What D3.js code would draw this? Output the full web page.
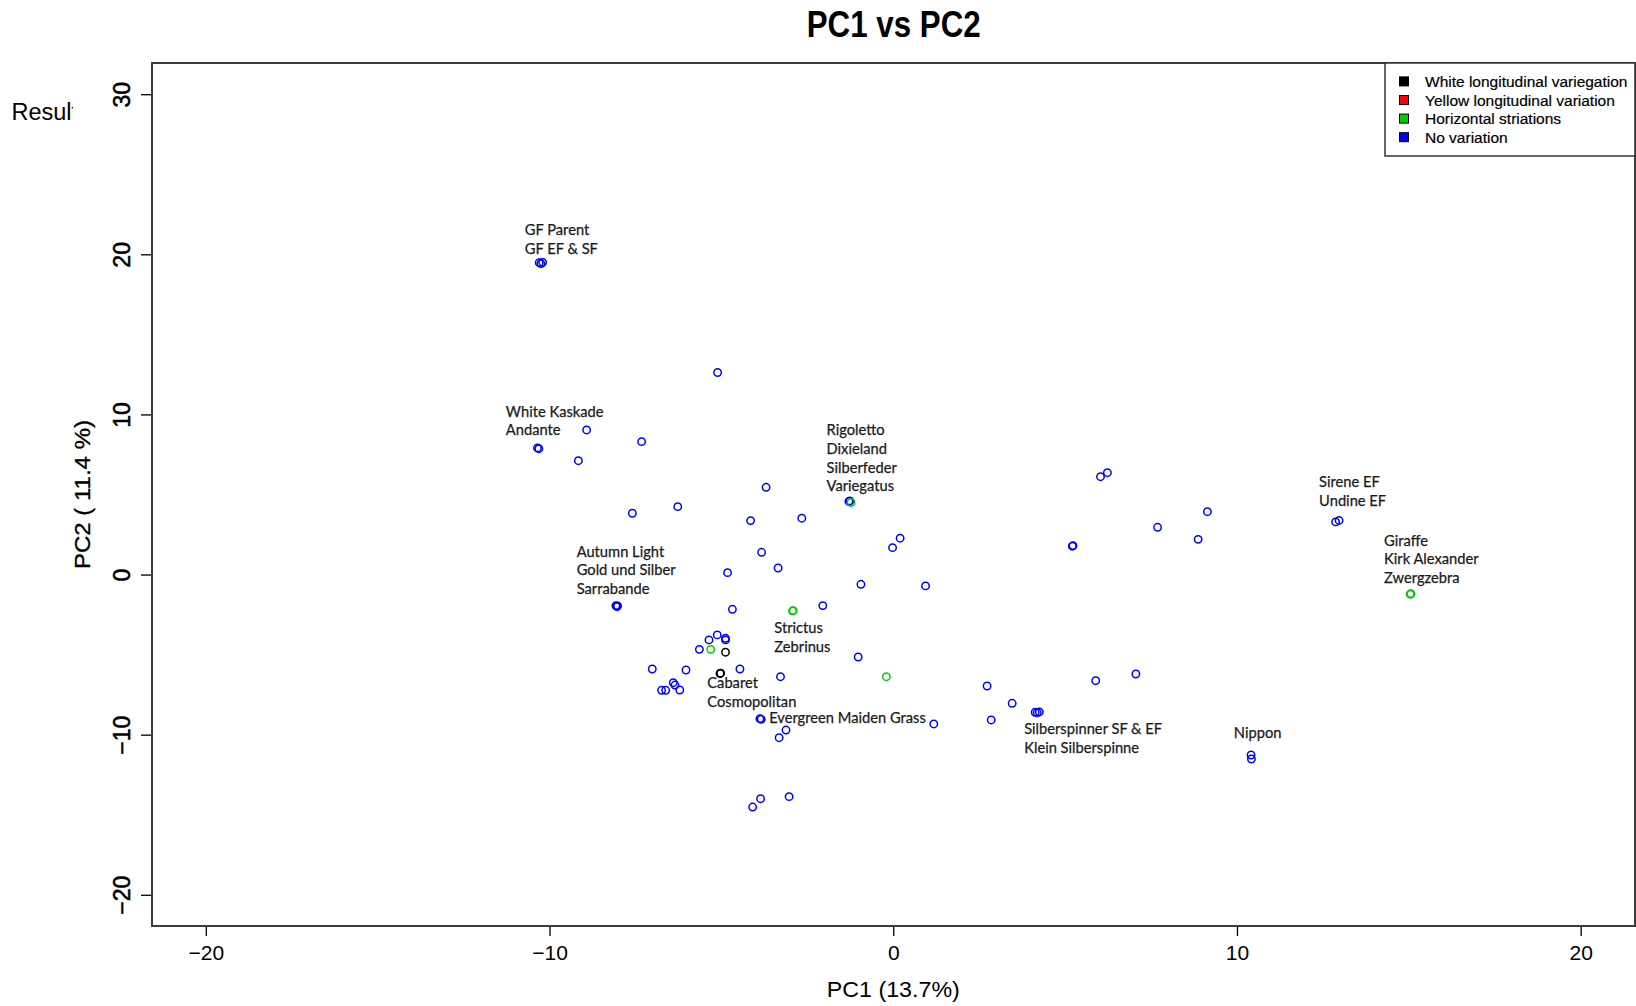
<!DOCTYPE html>
<html>
<head>
<meta charset="utf-8">
<script src="https://cdn.jsdelivr.net/npm/d3@7"></script>
<style>
  html, body { margin: 0; padding: 0; background: #fff; }
  svg { display: block; }
</style>
</head>
<body>
<svg id="chart" width="1636" height="1006"></svg>
<script>
// PCA scores, grouped by leaf variegation pattern
const groupNames = [
  "White longitudinal variegation",
  "Yellow longitudinal variation",
  "Horizontal striations",
  "No variation"
];
const groupColors = ["#000000", "#ff0000", "#00cd00", "#0000ff"];

const whitePC1 = [-4.88, -5.04, -5.02];
const whitePC2 = [-4.85, -6.18, -6.16];

const yellowPC1 = [];
const yellowPC2 = [];

const stripePC1 = [-2.93, -2.91, -5.31, -0.20, 15.05, 15.06, 15.04];
const stripePC2 = [-2.27, -2.25, -4.67, -6.38, -1.21, -1.20, -1.22];

const noVarPC1 = [-10.30, -10.25, -10.20, -5.11, -8.92, -10.35, -10.31, -7.32, -9.16, -3.70,
  -7.59, -6.27, -4.15, -2.66, 0.20, -0.02, -3.83, -3.35, -4.82, -0.94,
  0.94, -8.07, -8.04, -8.02, -4.68, -2.05, -5.12, -5.36, -4.88, -4.88,
  -5.64, -1.02, -7.01, -6.03, -4.46, -3.28, -6.40, -6.35, -6.21, -6.74,
  -6.62, -3.88, -3.84, 1.18, -3.12, -3.32, -3.86, -4.09, -3.03, 6.03,
  6.23, 9.14, 7.69, 8.87, 5.21, 5.23, 2.73, 3.46, 2.85, 4.13,
  4.19, 4.25, 5.89, 7.06, 10.41, 10.42, 12.87, 12.97, -1.29, -1.26];
const noVarPC2 = [19.48, 19.42, 19.50, 12.62, 9.03, 7.91, 7.86, 8.30, 7.11, 5.45,
  3.83, 4.24, 3.37, 3.52, 2.27, 1.68, 1.39, 0.41, 0.12, -0.61,
  -0.71, -1.94, -2.00, -1.96, -2.17, -1.94, -3.77, -4.08, -3.98, -4.08,
  -4.67, -5.15, -5.90, -5.96, -5.90, -6.38, -6.75, -6.90, -7.21, -7.23,
  -7.23, -9.00, -9.04, -9.33, -9.71, -10.19, -14.00, -14.52, -13.87, 6.11,
  6.36, 3.93, 2.95, 2.20, 1.77, 1.81, -6.96, -8.04, -9.08, -8.60,
  -8.62, -8.58, -6.63, -6.21, -11.27, -11.52, 3.29, 3.38, 4.57, 4.60];

// Rigoletto group point, striation sample drawn last
const rigolettoStripePC1 = [-1.23];
const rigolettoStripePC2 = [4.50];

// Cultivar name annotations (anchor = first line baseline, in PC units)
const labelText = [
  ["GF Parent", "GF EF & SF"],
  ["White Kaskade", "Andante"],
  ["Autumn Light", "Gold und Silber", "Sarrabande"],
  ["Rigoletto", "Dixieland", "Silberfeder", "Variegatus"],
  ["Strictus", "Zebrinus"],
  ["Cabaret", "Cosmopolitan"],
  ["Evergreen Maiden Grass"],
  ["Silberspinner SF & EF", "Klein Silberspinne"],
  ["Nippon"],
  ["Sirene EF", "Undine EF"],
  ["Giraffe", "Kirk Alexander", "Zwergzebra"]
];
const labelPC1 = [-10.72, -11.27, -9.21, -1.94, -3.46, -5.41, -3.61, 3.81, 9.91, 12.39, 14.28];
const labelPC2 = [21.21, 9.86, 1.12, 8.72, -3.67, -7.10, -9.29, -9.98, -10.22, 5.45, 1.81];

const xTicks = [-20, -10, 0, 10, 20];
const yTicks = [-20, -10, 0, 10, 20, 30];

const titleText = "PC1 vs PC2";
const xTitle = "PC1 (13.7%)";
const yTitle = "PC2 ( 11.4 %)";

// ---- layout ----
const svg = d3.select("#chart");
const plot = { left: 152, right: 1635, top: 63, bottom: 926 };

const x = d3.scaleLinear().domain([-21.565, 21.58]).range([plot.left, plot.right]);
const y = d3.scaleLinear().domain([-21.95, 31.95]).range([plot.bottom, plot.top]);

const fmt = v => (v < 0 ? "\u2212" + Math.abs(v) : String(v));
const sans = "'Liberation Sans', Arial, Helvetica, sans-serif";
const labelFont = "Lato, 'Open Sans', sans-serif";

// stray heading text at upper left, clipped by the axis label area
svg.append("clipPath").attr("id", "resultClip")
  .append("rect").attr("x", 0).attr("y", 80).attr("width", 73).attr("height", 60);
svg.append("text")
  .attr("x", 11.5).attr("y", 120)
  .attr("clip-path", "url(#resultClip)")
  .attr("font-family", sans).attr("font-size", 23.5).attr("fill", "#000")
  .text("Result");

// title
svg.append("text")
  .attr("x", 893.7).attr("y", 36.5)
  .attr("text-anchor", "middle")
  .attr("font-family", sans).attr("font-weight", "bold").attr("font-size", 36)
  .attr("textLength", 174).attr("lengthAdjust", "spacingAndGlyphs")
  .attr("fill", "#000")
  .text(titleText);

// x axis
const xAxis = svg.append("g")
  .attr("transform", `translate(0,${plot.bottom})`)
  .call(d3.axisBottom(x).tickValues(xTicks).tickSize(10).tickFormat(""));
xAxis.select(".domain").remove();
xAxis.selectAll(".tick line").attr("stroke", "#000").attr("stroke-width", 1.3);
xAxis.selectAll(".tick").append("text")
  .attr("y", 34).attr("fill", "#000")
  .attr("text-anchor", "middle")
  .attr("font-family", sans).attr("font-size", 21)
  .text(d => fmt(d));

// y axis
const yAxis = svg.append("g")
  .attr("transform", `translate(${plot.left},0)`)
  .call(d3.axisLeft(y).tickValues(yTicks).tickSize(11).tickFormat(""));
yAxis.select(".domain").remove();
yAxis.selectAll(".tick line").attr("stroke", "#000").attr("stroke-width", 1.3);
yAxis.selectAll(".tick").append("text")
  .attr("transform", "translate(-22,0) rotate(-90)")
  .attr("fill", "#000").attr("stroke", "#000").attr("stroke-width", 0.5)
  .attr("text-anchor", "middle")
  .attr("font-family", sans).attr("font-size", 23)
  .text(d => fmt(d));

// axis titles
svg.append("text")
  .attr("x", 893.3).attr("y", 997)
  .attr("text-anchor", "middle")
  .attr("font-family", sans).attr("font-size", 22)
  .attr("textLength", 133).attr("lengthAdjust", "spacingAndGlyphs")
  .attr("fill", "#000")
  .text(xTitle);
svg.append("text")
  .attr("transform", `translate(90,${(plot.top + plot.bottom) / 2}) rotate(-90)`)
  .attr("text-anchor", "middle")
  .attr("font-family", sans).attr("font-size", 22)
  .attr("textLength", 149).attr("lengthAdjust", "spacingAndGlyphs")
  .attr("fill", "#000").attr("stroke", "#000").attr("stroke-width", 0.3)
  .text(yTitle);

// plot frame
svg.append("rect")
  .attr("x", plot.left).attr("y", plot.top)
  .attr("width", plot.right - plot.left).attr("height", plot.bottom - plot.top)
  .attr("fill", "none").attr("stroke", "#3c3c3c").attr("stroke-width", 2);

// points
const layers = [
  { pc1: noVarPC1, pc2: noVarPC2, color: groupColors[3] },
  { pc1: whitePC1, pc2: whitePC2, color: groupColors[0] },
  { pc1: yellowPC1, pc2: yellowPC2, color: groupColors[1] },
  { pc1: stripePC1, pc2: stripePC2, color: groupColors[2] },
  { pc1: rigolettoStripePC1, pc2: rigolettoStripePC2, color: groupColors[2] }
];
const pts = svg.append("g");
layers.forEach(layer => {
  pts.selectAll(null)
    .data(layer.pc1.map((v, i) => [v, layer.pc2[i]]))
    .join("circle")
    .attr("cx", d => x(d[0]))
    .attr("cy", d => y(d[1]))
    .attr("r", 3.7)
    .attr("fill", "none")
    .attr("stroke", layer.color)
    .attr("stroke-width", 1.5);
});

// cultivar labels
const labels = svg.append("g")
  .attr("font-family", labelFont).attr("font-size", 14.7)
  .attr("fill", "#1a1a1a").attr("stroke", "#1a1a1a").attr("stroke-width", 0.25);
labelText.forEach((lines, i) => {
  const t = labels.append("text")
    .attr("x", x(labelPC1[i])).attr("y", y(labelPC2[i]));
  lines.forEach((line, j) => {
    t.append("tspan")
      .attr("x", x(labelPC1[i]))
      .attr("dy", j === 0 ? 0 : 18.8)
      .text(line);
  });
});

// legend
const legend = svg.append("g");
legend.append("rect")
  .attr("x", 1385).attr("y", plot.top)
  .attr("width", 1635 - 1385).attr("height", 156 - plot.top)
  .attr("fill", "#fff").attr("stroke", "#333").attr("stroke-width", 1.5);
const legendRows = legend.selectAll("g.row")
  .data(groupNames)
  .join("g")
  .attr("class", "row")
  .attr("transform", (d, i) => `translate(0,${81.4 + i * 18.6})`);
legendRows.append("rect")
  .attr("x", 1399.5).attr("y", -4.5)
  .attr("width", 9).attr("height", 9)
  .attr("fill", (d, i) => groupColors[i])
  .attr("stroke", "#000").attr("stroke-width", 1);
legendRows.append("text")
  .attr("x", 1425).attr("y", 5.5)
  .attr("font-family", sans).attr("font-size", 15.5)
  .attr("fill", "#000").attr("stroke", "#000").attr("stroke-width", 0.2)
  .text(d => d);
</script>
</body>
</html>
